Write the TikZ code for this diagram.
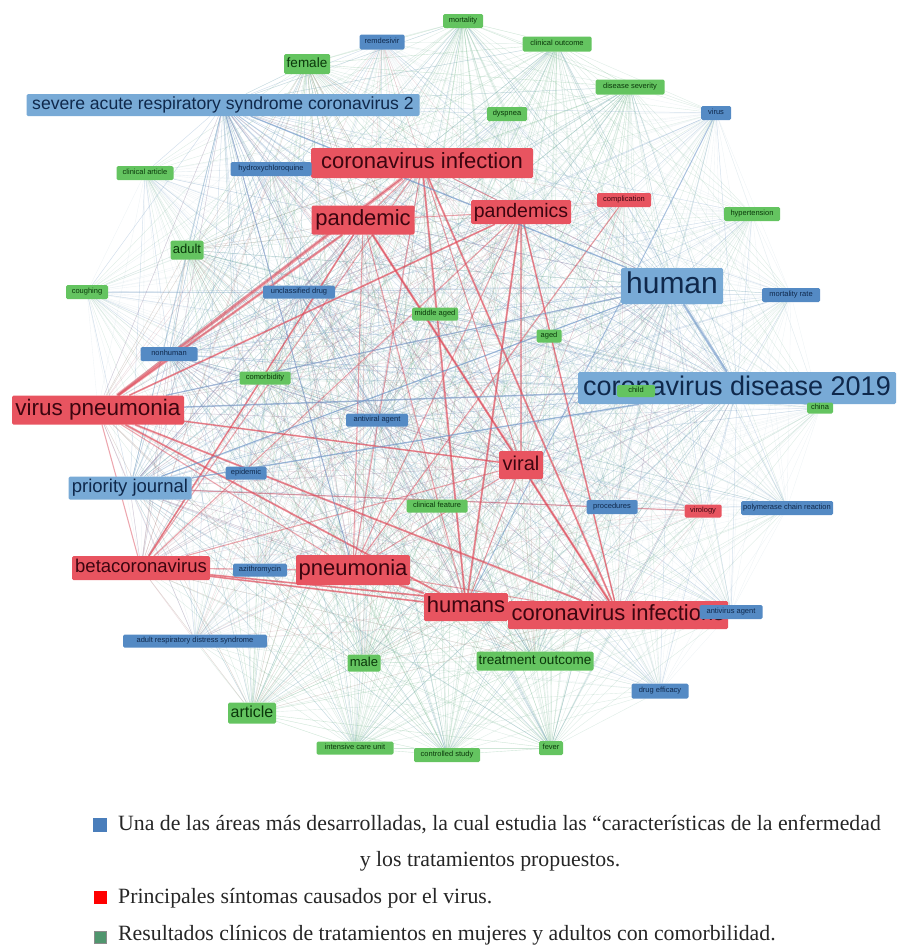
\documentclass[tikz,border=0pt]{standalone}
\usepackage{fontspec}
\setmainfont{Liberation Serif}
\newfontfamily\labfont{Liberation Sans}
\definecolor{redfill}{RGB}{232,84,96}
\definecolor{redtext}{RGB}{60,5,15}
\definecolor{bluefill}{RGB}{120,170,214}
\definecolor{bluesm}{RGB}{84,138,196}
\definecolor{bluetext}{RGB}{15,40,75}
\definecolor{greenfill}{RGB}{100,196,96}
\definecolor{greentext}{RGB}{10,55,10}
\definecolor{meshc}{RGB}{140,175,190}
\definecolor{bluelink}{RGB}{110,150,200}
\definecolor{greenlink}{RGB}{110,190,120}
\definecolor{redlink}{RGB}{225,70,85}
\definecolor{legblue}{RGB}{74,126,187}
\definecolor{legred}{RGB}{255,0,0}
\definecolor{leggreen}{RGB}{80,150,110}
\pgfdeclarelayer{bg}
\pgfsetlayers{bg,main}
\begin{document}
\begin{tikzpicture}[x=1pt,y=-1pt,
 lab/.style={rectangle, rounded corners=1.5pt, inner sep=0pt, align=center},
 fz/.style={font=\labfont\fontsize{#1}{#1}\selectfont, text height={0.72*#1}, text depth={0.2*#1}},
 bx/.style 2 args={minimum width=#1, minimum height=#2},
 rn/.style={lab, fill=redfill, text=redtext},
 bn/.style={lab, fill=bluefill, text=bluetext},
 bs/.style={lab, fill=bluesm, text=bluetext, fz=7.5},
 gn/.style={lab, fill=greenfill, text=greentext},
 gs/.style={gn, fz=7.5},
 rs/.style={rn, fz=7.5},
 meshln/.style={draw=meshc, draw opacity=0.15, line width=0.35pt},
 bluln/.style={draw=bluelink, draw opacity=0.22, line width=0.5pt},
 grnln/.style={draw=greenlink, draw opacity=0.13, line width=0.4pt},
 redfaint/.style={draw=redlink, draw opacity=0.12, line width=0.5pt},
 redln/.style={draw=redlink, draw opacity=0.45, line width=#1},
 bluestrong/.style={draw=bluelink, draw opacity=0.55, line width=#1},
 legtext/.style={font=\fontsize{21.8}{24}\selectfont, inner sep=0pt, text=black!85},
 sqr/.style={rectangle, minimum size=#1, inner sep=0pt}
]
\useasboundingbox (0,0) rectangle (897,945);

% ---------- big red nodes
\node[rn,fz=22,bx={222}{30}] (ci) at (422,163) {coronavirus infection};
\node[rn,fz=22,bx={103}{29}] (pd) at (363,220) {pandemic};
\node[rn,fz=19.5,bx={100}{24}] (pds) at (521,212) {pandemics};
\node[rn,fz=22.5,bx={172}{29}] (vp) at (98,410) {virus pneumonia};
\node[rn,fz=20,bx={44}{28}] (vi) at (521,465) {viral};
\node[rn,fz=18.5,bx={138}{24}] (bc) at (141,568) {betacoronavirus};
\node[rn,fz=22,bx={114}{30}] (pn) at (353,570) {pneumonia};
\node[rn,fz=22,bx={84}{28}] (hu) at (466,607) {humans};
\node[rn,fz=22,bx={220}{28}] (cis) at (618,615) {coronavirus infections};
\node[rs,bx={54}{14}] (comp) at (624,200) {complication};
\node[rs,bx={37}{13}] (virol) at (703,511) {virology};

% ---------- big blue nodes
\node[bn,fz=17.6,bx={393}{22}] (sars) at (223,105) {severe acute respiratory syndrome coronavirus 2};
\node[bn,fz=30,bx={102}{36}] (human) at (672,286) {human};
\node[bn,fz=27,bx={318}{32}] (cd19) at (737,388) {coronavirus disease 2019};
\node[bn,fz=18.5,bx={123}{23}] (pj) at (130,488) {priority journal};

% ---------- small blue nodes
\node[bs,bx={45}{15}] (remd) at (382,42) {remdesivir};
\node[bs,bx={81}{14}] (hcq) at (271,169) {hydroxychloroquine};
\node[bs,bx={30}{14}] (virus) at (716,113) {virus};
\node[bs,bx={58}{14}] (mrate) at (791,295) {mortality rate};
\node[bs,bx={72}{13}] (udrug) at (299,292) {unclassified drug};
\node[bs,bx={57}{14}] (nonh) at (169,354) {nonhuman};
\node[bs,bx={62}{13}] (antiv) at (377,420) {antiviral agent};
\node[bs,bx={41}{13}] (epid) at (246,473) {epidemic};
\node[bs,bx={51}{14}] (proc) at (612,507) {procedures};
\node[bs,bx={92}{14}] (pcr) at (787,508) {polymerase chain reaction};
\node[bs,bx={54}{13}] (azi) at (260,570) {azithromycin};
\node[bs,bx={63}{14}] (avag) at (731,612) {antivirus agent};
\node[bs,bx={144}{13}] (ards) at (195,641) {adult respiratory distress syndrome};
\node[bs,bx={57}{15}] (deff) at (660,691) {drug efficacy};

% ---------- green nodes
\node[gs,bx={40}{14}] (mort) at (463,21) {mortality};
\node[gs,bx={69}{15}] (clout) at (557,44) {clinical outcome};
\node[gs,bx={69}{15}] (dsev) at (630,87) {disease severity};
\node[gs,bx={40}{14}] (dysp) at (507,114) {dyspnea};
\node[gs,bx={57}{14}] (clart) at (145,173) {clinical article};
\node[gs,bx={56}{14}] (hyp) at (752,214) {hypertension};
\node[gs,bx={42}{14}] (cough) at (87,292) {coughing};
\node[gs,bx={46}{13}] (midage) at (435,314) {middle aged};
\node[gs,bx={25}{13}] (aged) at (549,336) {aged};
\node[gs,bx={51}{13}] (comor) at (265,378) {comorbidity};
\node[gs,bx={26}{11}] (china) at (820,408) {china};
\node[gs,bx={38}{12}] (child) at (636,391) {child};
\node[gs,bx={61}{13}] (clfeat) at (437,506) {clinical feature};
\node[gs,bx={77}{13}] (icu) at (355,748) {intensive care unit};
\node[gs,bx={66}{14}] (cstudy) at (447,755) {controlled study};
\node[gs,bx={24}{14}] (fever) at (551,748) {fever};
\node[gn,fz=13.5,bx={46}{20}] (female) at (307,64) {female};
\node[gn,fz=13,bx={33}{19}] (adult) at (187,250) {adult};
\node[gn,fz=13,bx={33}{17}] (male) at (364,663) {male};
\node[gn,fz=13.5,bx={117}{19}] (tout) at (535,661) {treatment outcome};
\node[gn,fz=16,bx={48}{21}] (article) at (252,713) {article};

% ---------- connectors
\def\allnodes{ci,pd,pds,vp,vi,bc,pn,hu,cis,comp,virol,sars,human,cd19,pj,remd,hcq,virus,mrate,udrug,nonh,antiv,epid,proc,pcr,azi,avag,ards,deff,mort,clout,dsev,dysp,clart,hyp,cough,midage,aged,comor,china,child,clfeat,icu,cstudy,fever,female,adult,male,tout,article}
\def\bignodes{ci,pd,pds,vp,vi,bc,pn,hu,cis}
\begin{pgfonlayer}{bg}
\foreach \a [count=\i] in \allnodes {
  \foreach \b [count=\j] in \allnodes {
    \ifnum\j>\i \draw[meshln] (\a) -- (\b); \fi
  }
}
\foreach \a in {article,tout,male,female,adult,mort,clout,dsev,icu,cstudy,fever,comor} {
  \foreach \b in \allnodes { \draw[grnln] (\a) -- (\b); }
}
\foreach \a in {sars,human,cd19,pj,nonh,udrug,antiv} {
  \foreach \b in \allnodes { \draw[bluln] (\a) -- (\b); }
}
\foreach \a in \bignodes {
  \foreach \b in {sars,human,cd19,pj,remd,hcq,udrug,nonh,antiv,epid,azi,ards,comp,virol,clfeat,midage,aged,comor,tout,male,adult,female,article} { \draw[redfaint] (\a) -- (\b); }
}
\foreach \a [count=\i] in \bignodes {
  \foreach \b [count=\j] in \bignodes {
    \ifnum\j>\i \draw[redln=1.1pt] (\a) -- (\b); \fi
  }
}
\draw[redln=3.5pt] (vp) -- (ci);
\draw[redln=2.5pt] (vp) -- (pd);
\draw[redln=1.8pt] (vp) -- (pds);
\draw[redln=2pt] (vp) -- (cis);
\draw[redln=2pt] (vp) -- (hu);
\draw[redln=1.6pt] (vp) -- (vi);
\draw[redln=2.5pt] (pd) -- (cis);
\draw[redln=2pt] (ci) -- (cis);
\draw[redln=2pt] (ci) -- (hu);
\draw[redln=2pt] (pds) -- (hu);
\draw[redln=2.2pt] (pn) -- (hu);
\draw[redln=1.8pt] (bc) -- (hu);
\draw[redln=1.8pt] (bc) -- (cis);
\draw[redln=1.6pt] (bc) -- (pd);
\draw[redln=1.5pt] (pds) -- (cis);
\draw[redln=1.2pt] (comp) -- (pn);
\draw[redln=1.2pt] (virol) -- (pj);
\draw[bluestrong=1.5pt] (cd19) -- (vp);
\draw[bluestrong=2.5pt] (human) -- (cd19);
\draw[bluestrong=1.2pt] (human) -- (pj);
\draw[bluestrong=1.4pt] (sars) -- (human);
\draw[bluestrong=1.4pt] (cd19) -- (pj);
\draw[bluestrong=1.2pt] (human) -- (vp);
\draw[bluestrong=1pt] (virus) -- (hu);
\draw[bluestrong=1pt] (sars) -- (pn);
\end{pgfonlayer}

% ---------- legend
\node[sqr=14pt, fill=legblue] (s1) at (100,825) {};
\node[legtext, anchor=base west] (l1) at (118,830) {Una de las áreas más desarrolladas, la cual estudia las “características de la enfermedad};
\node[legtext, anchor=base] (l2) at (490,866) {y los tratamientos propuestos.};
\node[sqr=13pt, fill=legred] (s2) at (100,897) {};
\node[legtext, anchor=base west] (l3) at (118,903) {Principales síntomas causados por el virus.};
\node[sqr=12pt, fill=leggreen, draw=black!45, line width=0.6pt] (s3) at (100,937) {};
\node[legtext, anchor=base west] (l4) at (118,940) {Resultados clínicos de tratamientos en mujeres y adultos con comorbilidad.};
\end{tikzpicture}
\end{document}
